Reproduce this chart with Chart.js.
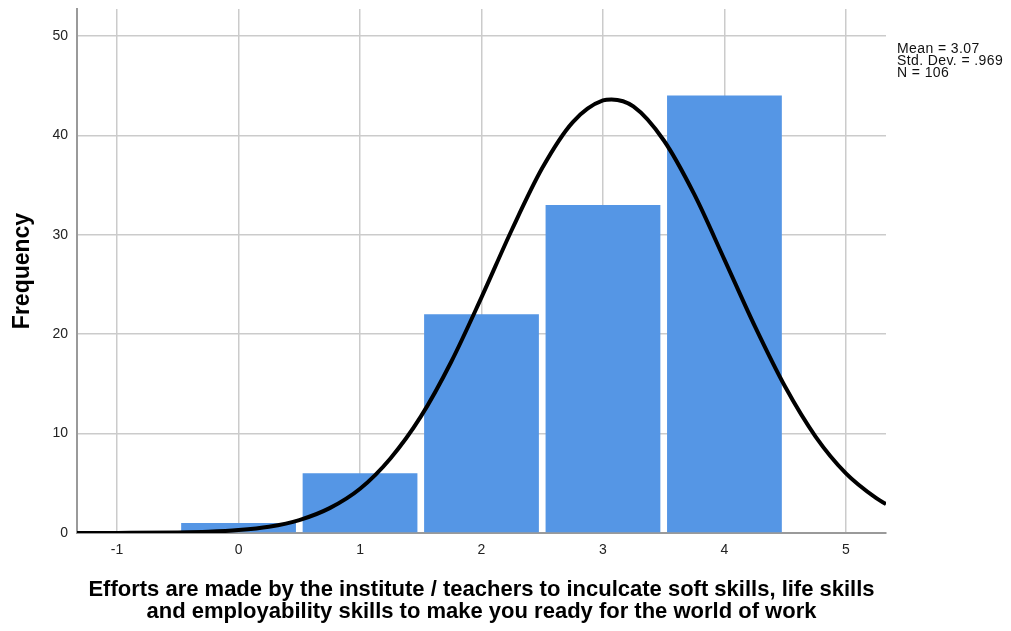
<!DOCTYPE html>
<html>
<head>
<meta charset="utf-8">
<script src="https://cdn.jsdelivr.net/npm/chart.js@4/dist/chart.umd.min.js"></script>
<style>
  html, body { margin: 0; padding: 0; background: #fff; }
  #wrap { position: relative; width: 1011px; height: 631px; }
  #stats {
    position: absolute; left: 897px; top: 42px;
    font: 14px "Liberation Sans", Arial, sans-serif; line-height: 12px;
    letter-spacing: 0.4px; color: #111; white-space: pre;
  }
</style>
</head>
<body>
<div id="wrap">
  <canvas id="hist" width="1011" height="631"></canvas>
  <div id="stats">Mean = 3.07
Std. Dev. = .969
N = 106</div>
</div>
<script>
(function () {
  // histogram bins and counts
  var binCenters = [0, 1, 2, 3, 4];
  var frequencies = [1, 6, 22, 33, 44];

  // normal curve
  var curveX = [-1.33, -1, -0.5, -0.25, 0, 0.25, 0.5, 0.75, 1, 1.25, 1.5, 1.75, 2, 2.25, 2.5, 2.75, 3, 3.07, 3.25, 3.5, 3.75, 4, 4.25, 4.5, 4.75, 5, 5.25, 5.33];
  var curveY = [0.0, 0.01, 0.05, 0.12, 0.29, 0.63, 1.3, 2.5, 4.45, 7.5, 11.7, 17.2, 23.7, 30.5, 36.7, 41.3, 43.5, 43.6, 42.9, 39.5, 34.1, 27.5, 20.8, 14.7, 9.7, 6.0, 3.5, 2.9];

  var xTicks = [-1, 0, 1, 2, 3, 4, 5];
  var yTicks = [0, 10, 20, 30, 40, 50];

  var xTitle = [
    "Efforts are made by the institute / teachers to inculcate soft skills, life skills",
    "and employability skills to make you ready for the world of work"
  ];
  var yTitle = "Frequency";

  var FONT = '"Liberation Sans", Arial, sans-serif';

  var bars = [];
  for (var i = 0; i < binCenters.length; i++) {
    bars.push({ x: binCenters[i], y: frequencies[i] });
  }
  var curve = [];
  for (var j = 0; j < curveX.length; j++) {
    curve.push({ x: curveX[j], y: curveY[j] });
  }

  function fixedTicks(list) {
    return function (scale) {
      scale.ticks = list.map(function (v) { return { value: v }; });
    };
  }

  new Chart(document.getElementById("hist"), {
    type: "bar",
    data: {
      datasets: [
        {
          type: "line",
          data: curve,
          borderColor: "#000",
          borderWidth: 4,
          pointRadius: 0,
          tension: 0.4,
          cubicInterpolationMode: "monotone",
          fill: false,
          order: 1
        },
        {
          type: "bar",
          data: bars,
          backgroundColor: "#5596e5",
          borderWidth: 0,
          categoryPercentage: 1,
          barPercentage: 0.945,
          order: 2
        }
      ]
    },
    options: {
      responsive: false,
      animation: false,
      layout: { padding: { top: 0, right: 125, left: 0, bottom: 0 } },
      plugins: { legend: { display: false }, tooltip: { enabled: false } },
      scales: {
        x: {
          type: "linear",
          min: -1.33,
          max: 5.33,
          offset: false,
          afterBuildTicks: fixedTicks(xTicks),
          afterFit: function (s) { s.height = 98; },
          grid: { color: "#cbcbcb", lineWidth: 1.5, drawTicks: false, offset: false },
          border: { color: "#9a9a9a", width: 2 },
          ticks: { color: "#222", padding: 9, font: { family: FONT, size: 14 } },
          title: {
            display: true,
            text: xTitle,
            color: "#000",
            padding: { bottom: 8 },
            font: { family: FONT, size: 22, weight: "bold", lineHeight: 1.0 }
          }
        },
        y: {
          min: 0,
          max: 52.7,
          afterBuildTicks: fixedTicks(yTicks),
          afterFit: function (s) { s.width = 77; s.paddingTop = 9; },
          grid: { color: "#cbcbcb", lineWidth: 1.5, drawTicks: false },
          border: { color: "#9a9a9a", width: 2 },
          ticks: { color: "#222", padding: 9, font: { family: FONT, size: 14 } },
          title: {
            display: true,
            text: yTitle,
            color: "#000",
            padding: { top: 9 },
            font: { family: FONT, size: 23, weight: "bold", lineHeight: 1.2 }
          }
        }
      }
    }
  });
})();
</script>
</body>
</html>
